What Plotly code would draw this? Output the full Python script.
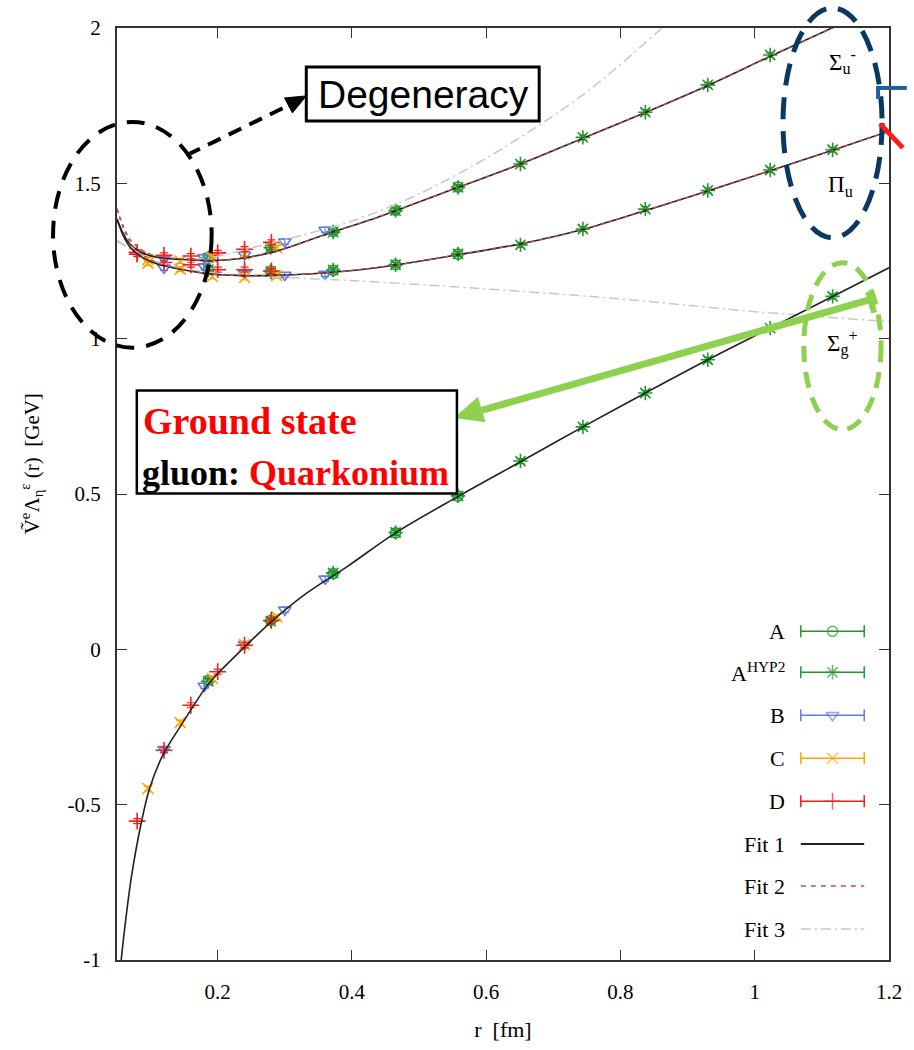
import plotly.graph_objects as go

# ---------------- data ----------------
# lattice r values [fm]
r_A = [0.186, 0.279, 0.372, 0.465, 0.558]
r_H = [0.186, 0.279, 0.372, 0.465, 0.558, 0.651, 0.744, 0.837, 0.930, 1.023, 1.116]
r_B = [0.120, 0.180, 0.240, 0.300, 0.360]
r_C = [0.096, 0.144, 0.192, 0.240, 0.288]
r_D = [0.080, 0.120, 0.160, 0.200, 0.240, 0.280]

# ground state Sigma_g^+
gs_A = [-0.100, 0.093, 0.244, 0.375, 0.493]
gs_H = [-0.103, 0.091, 0.246, 0.376, 0.494, 0.606, 0.716, 0.825, 0.932, 1.034, 1.136]
gs_B = [-0.322, -0.118, 0.016, 0.127, 0.227]
gs_C = [-0.448, -0.236, -0.094, 0.015, 0.105]
gs_D = [-0.553, -0.325, -0.180, -0.072, 0.013, 0.093]

# excited Sigma_u^-
su_A = [1.262, 1.295, 1.345, 1.413, 1.488]
su_H = [1.260, 1.293, 1.343, 1.412, 1.487, 1.562, 1.648, 1.729, 1.817, 1.913]
su_B = [1.258, 1.262, 1.270, 1.312, 1.350]
su_C = [1.255, 1.250, 1.262, 1.272, 1.292]
su_D = [1.278, 1.268, 1.266, 1.276, 1.288, 1.310]

# excited Pi_u
pu_A = [1.222, 1.218, 1.220, 1.238, 1.272]
pu_H = [1.222, 1.216, 1.221, 1.238, 1.273, 1.302, 1.353, 1.417, 1.477, 1.543, 1.608]
pu_B = [1.228, 1.232, 1.210, 1.205, 1.208]
pu_C = [1.243, 1.224, 1.200, 1.197, 1.203]
pu_D = [1.272, 1.245, 1.238, 1.222, 1.222, 1.218]

# fit curves
gs_fit_r = [0.0548, 0.062, 0.0717, 0.0865, 0.0987, 0.1184, 0.148, 0.1726, 0.187, 0.2416,
            0.281, 0.330, 0.394, 0.465, 0.559, 0.653, 0.744, 0.837, 0.930, 1.023, 1.116, 1.2]
gs_fit_v = [-1.03, -0.888, -0.729, -0.555, -0.447, -0.340, -0.236, -0.153, -0.109, 0.011,
            0.091, 0.177, 0.268, 0.375, 0.493, 0.606, 0.716, 0.825, 0.932, 1.034, 1.136, 1.228]

su_fit_r = [0.05, 0.06, 0.07, 0.089, 0.11, 0.138, 0.187, 0.237, 0.286, 0.335, 0.364, 0.424,
            0.465, 0.558, 0.651, 0.745, 0.838, 0.931, 1.025, 1.115, 1.2]
su_fit1_v = [1.385, 1.335, 1.303, 1.275, 1.262, 1.256, 1.251, 1.259, 1.281, 1.316, 1.338, 1.380,
             1.412, 1.487, 1.562, 1.646, 1.729, 1.816, 1.911, 2.0, 2.085]
su_fit2_v = [1.418, 1.360, 1.318, 1.283, 1.266, 1.258, 1.252, 1.259, 1.281, 1.316, 1.338, 1.380,
             1.412, 1.487, 1.562, 1.646, 1.729, 1.816, 1.911, 2.0, 2.085]

pu_fit_r = [0.05, 0.06, 0.07, 0.089, 0.11, 0.138, 0.187, 0.237, 0.286, 0.335, 0.384, 0.424,
            0.465, 0.558, 0.651, 0.745, 0.838, 0.931, 1.025, 1.117, 1.2]
pu_fit1_v = [1.385, 1.328, 1.293, 1.260, 1.240, 1.226, 1.209, 1.203, 1.204, 1.208, 1.216, 1.225,
             1.237, 1.270, 1.305, 1.352, 1.413, 1.476, 1.542, 1.607, 1.668]
pu_fit2_v = [1.418, 1.352, 1.308, 1.268, 1.244, 1.228, 1.209, 1.203, 1.204, 1.208, 1.216, 1.225,
             1.237, 1.270, 1.305, 1.352, 1.413, 1.476, 1.542, 1.607, 1.668]

f3u_r = [0.05, 0.10, 0.15, 0.20, 0.25, 0.32, 0.409, 0.50, 0.621, 0.75, 0.862, 0.92]
f3u_v = [1.312, 1.265, 1.255, 1.265, 1.292, 1.330, 1.385, 1.466, 1.608, 1.795, 2.0, 2.11]
f3l_r = [0.05, 0.088, 0.12, 0.15, 0.20, 0.32, 0.424, 0.60, 0.80, 1.00, 1.20]
f3l_v = [1.318, 1.265, 1.240, 1.225, 1.210, 1.195, 1.184, 1.160, 1.128, 1.087, 1.055]

x_ticks = [0.2, 0.4, 0.6, 0.8, 1.0, 1.2]
x_ticktext = ["0.2", "0.4", "0.6", "0.8", "1", "1.2"]
y_ticks = [-1, -0.5, 0, 0.5, 1, 1.5, 2]
y_ticktext = ["-1", "-0.5", "0", "0.5", "1", "1.5", "2"]

legend_labels = ["A", "A<sup>HYP2</sup>", "B", "C", "D", "Fit 1", "Fit 2", "Fit 3"]

# ---------------- styles ----------------
W, H = 914, 1050
L, R, T, B = 117, 18, 28, 89
SERIF = "Liberation Serif, Times New Roman, serif"
SANS = "Liberation Sans, Arial, sans-serif"
GREEN = "#1f9a2a"
BLUE = "#5a7fe6"
ORANGE = "#ffa500"
RED = "#ff1a1a"
FIT1 = "#222222"
FIT2 = "#c0504d"
FIT3 = "#c8c8c8"


def PX(px):
    return (px - L) / (W - L - R)


def PY(py):
    return (H - B - py) / (H - T - B)


fig = go.Figure()

series = [
    ("A", r_A * 3, gs_A + su_A + pu_A, "circle-open", GREEN, 10),
    ("A<sup>HYP2</sup>", r_H + r_H[:10] + r_H, gs_H + su_H + pu_H, "asterisk-open", GREEN, 12),
    ("B", r_B * 3, gs_B + su_B + pu_B, "triangle-down-open", BLUE, 11),
    ("C", r_C * 3, gs_C + su_C + pu_C, "x-thin-open", ORANGE, 11),
    ("D", r_D * 3, gs_D + su_D + pu_D, "cross-thin-open", RED, 12),
]
for name, xs, ys, sym, col, sz in series:
    fig.add_trace(go.Scatter(
        x=xs, y=ys, mode="markers", name=name, showlegend=False,
        marker=dict(symbol=sym, size=sz, color=col, line=dict(color=col, width=1.6)),
        error_y=dict(type="constant", value=0.008, color=col, thickness=1.2, width=4),
    ))

# Fit 3 (grey dash-dot)
for xs, ys in [(f3u_r, f3u_v), (f3l_r, f3l_v)]:
    fig.add_trace(go.Scatter(x=xs, y=ys, mode="lines", showlegend=False,
                             line=dict(color=FIT3, width=1.5, dash="10px,4px,2px,4px", shape="spline")))
# Fit 1 (black)
for xs, ys in [(gs_fit_r, gs_fit_v), (su_fit_r, su_fit1_v), (pu_fit_r, pu_fit1_v)]:
    fig.add_trace(go.Scatter(x=xs, y=ys, mode="lines", showlegend=False,
                             line=dict(color=FIT1, width=1.6, shape="spline")))
# Fit 2 (dashed red-brown)
for xs, ys in [(su_fit_r, su_fit2_v), (pu_fit_r, pu_fit2_v)]:
    fig.add_trace(go.Scatter(x=xs, y=ys, mode="lines", showlegend=False,
                             line=dict(color=FIT2, width=1.4, dash="4px,4px", shape="spline")))

shapes = []
annotations = []


def label(px, py, text, size, color="black", family=SERIF, xanchor="center", angle=0):
    annotations.append(dict(x=PX(px), y=PY(py), xref="paper", yref="paper", text=text,
                            showarrow=False, xanchor=xanchor, yanchor="middle", textangle=angle,
                            font=dict(family=family, size=size, color=color)))


# ---------------- manual gnuplot-style key ----------------
key_y = [632, 673, 716, 759, 802, 845, 887, 930]
key_text_x = 793
key_x0, key_x1, key_xm = 807, 871, 839
key_styles = [
    ("circle-open", GREEN, 10), ("asterisk-open", GREEN, 12), ("triangle-down-open", BLUE, 11),
    ("x-thin-open", ORANGE, 11), ("cross-thin-open", RED, 12)]
for i, lab in enumerate(legend_labels):
    y = key_y[i]
    label(key_text_x, y, lab, 22, xanchor="right")
    if i < 5:
        col = key_styles[i][1]
        shapes.append(dict(type="line", xref="paper", yref="paper", x0=PX(key_x0), x1=PX(key_x1),
                           y0=PY(y), y1=PY(y), line=dict(color=col, width=1.5)))
        for xe in (key_x0, key_x1):
            shapes.append(dict(type="line", xref="paper", yref="paper", x0=PX(xe), x1=PX(xe),
                               y0=PY(y - 6), y1=PY(y + 6), line=dict(color=col, width=1.5)))
    else:
        st = [dict(color=FIT1, width=2), dict(color=FIT2, width=1.5, dash="5px,5px"),
              dict(color=FIT3, width=1.5, dash="10px,4px,2px,4px")][i - 5]
        shapes.append(dict(type="line", xref="paper", yref="paper", x0=PX(key_x0), x1=PX(key_x1),
                           y0=PY(y), y1=PY(y), line=st))

fig.add_trace(go.Scatter(
    x=[PX(key_xm)] * 5, y=[PY(v) for v in key_y[:5]], xaxis="x2", yaxis="y2",
    mode="markers", showlegend=False,
    marker=dict(symbol=[s[0] for s in key_styles], size=[s[2] for s in key_styles],
                color=[s[1] for s in key_styles],
                line=dict(color=[s[1] for s in key_styles], width=1.5))))


# ---------------- annotation overlays ----------------
def ellipse(cx, cy, rx, ry, color, width, dash):
    return dict(type="circle", xref="paper", yref="paper",
                x0=PX(cx - rx), x1=PX(cx + rx), y0=PY(cy + ry), y1=PY(cy - ry),
                line=dict(color=color, width=width, dash=dash), layer="above")


def seg(x0, y0, x1, y1, color, width, dash="solid"):
    return dict(type="line", xref="paper", yref="paper", x0=PX(x0), y0=PY(y0), x1=PX(x1), y1=PY(y1),
                line=dict(color=color, width=width, dash=dash), layer="above")


def tri(p, color):
    path = "M {} {} L {} {} L {} {} Z".format(PX(p[0][0]), PY(p[0][1]), PX(p[1][0]), PY(p[1][1]),
                                              PX(p[2][0]), PY(p[2][1]))
    return dict(type="path", xref="paper", yref="paper", path=path, fillcolor=color,
                line=dict(color=color, width=1), layer="above")


NAVY = "#0b3763"
LGREEN = "#8fd14f"

# degeneracy ellipse + dashed arrow + box
shapes.append(ellipse(132.5, 235, 80, 113, "black", 4, "18px,12px"))
shapes.append(seg(188, 155, 291, 105, "black", 4, "14px,9px"))
shapes.append(tri([(308, 96), (286, 98), (294, 113)], "black"))
shapes.append(dict(type="rect", xref="paper", yref="paper", x0=PX(308), x1=PX(543), y0=PY(121), y1=PY(67),
                   line=dict(color="black", width=3), fillcolor="white", layer="above"))
label(426, 95, "Degeneracy", 39, family=SANS)

# excited-state ellipse (navy) + labels
shapes.append(ellipse(839, 123, 50, 115, NAVY, 5, "22px,12px"))
shapes.append(seg(883, 88, 914, 88, "#1f5f9f", 4))
shapes.append(seg(885, 88, 885, 99, "#1f5f9f", 4))
shapes.append(seg(887, 124, 910, 148, RED, 5))
label(849, 62, "Σ<sub>u</sub><sup>-</sup>", 23)
label(847, 186, "Π<sub>u</sub>", 23)

# ground-state ellipse (light green) + arrow + label
shapes.append(ellipse(849, 346.5, 39, 83.5, LGREEN, 5, "16px,10px"))
label(849, 343, "Σ<sub>g</sub><sup>+</sup>", 23)
shapes.append(seg(877, 300, 484, 411, LGREEN, 7))
shapes.append(seg(875, 292, 881, 313, LGREEN, 6))
shapes.append(tri([(458, 418), (488, 422), (481, 398)], LGREEN))

# ground-state text box
shapes.append(dict(type="rect", xref="paper", yref="paper", x0=PX(137), x1=PX(460), y0=PY(494), y1=PY(391),
                   line=dict(color="black", width=2.5), fillcolor="white", layer="above"))
label(141, 421, "<b>Ground state</b>", 38, color="#ff0000", xanchor="left")
label(140, 473, "<b>gluon: <span style='color:#ff0000'>Quarkonium</span></b>", 36, xanchor="left")

# y-axis title
label(31, 464, "Ṽ<sup>e</sup>Λ<sub>η</sub><sup>ε</sup> (r)  [GeV]", 21, angle=-90)

axis_common = dict(showline=True, linecolor="#333333", linewidth=2, mirror="ticks", ticks="inside",
                   ticklen=10, tickwidth=1.2, tickcolor="#333333", showgrid=False, zeroline=False,
                   tickfont=dict(family=SERIF, size=21, color="black"))

fig.update_layout(
    width=W, height=H, autosize=False,
    margin=dict(l=L, r=R, t=T, b=B),
    paper_bgcolor="white", plot_bgcolor="white",
    showlegend=False, hovermode=False,
    xaxis=dict(range=[0.05, 1.2], tickvals=x_ticks, ticktext=x_ticktext, ticklabelstandoff=12,
               title=dict(text="r  [fm]", font=dict(family=SERIF, size=22, color="black"), standoff=18),
               **axis_common),
    yaxis=dict(range=[-1, 2], tickvals=y_ticks, ticktext=y_ticktext, ticklabelstandoff=10, **axis_common),
    xaxis2=dict(overlaying="x", range=[0, 1], visible=False, fixedrange=True),
    yaxis2=dict(overlaying="y", range=[0, 1], visible=False, fixedrange=True),
    shapes=shapes,
    annotations=annotations,
)

fig.write_html("out.html", config={"displayModeBar": False})
